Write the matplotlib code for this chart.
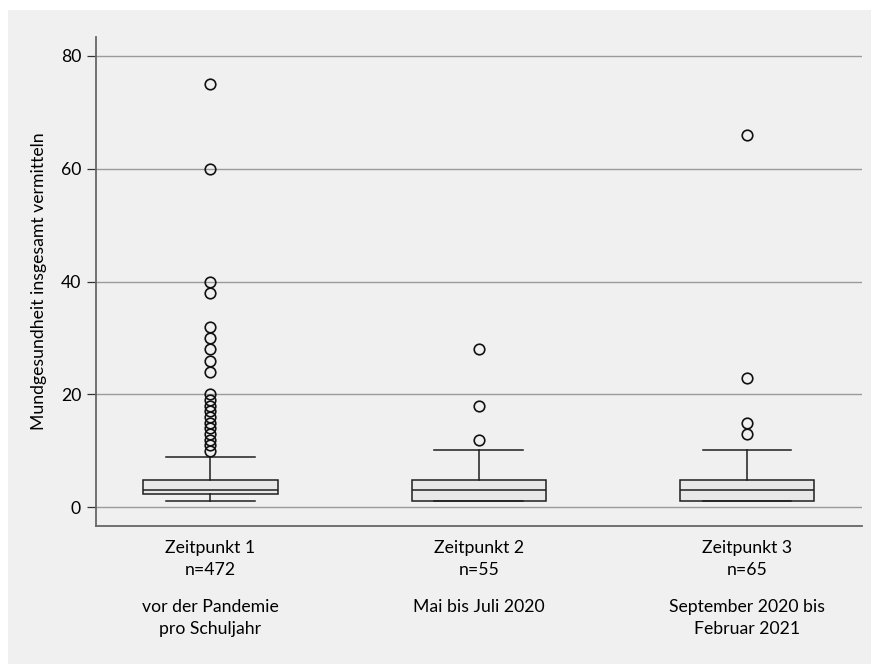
import matplotlib
matplotlib.use('Agg')
import matplotlib.pyplot as plt
import matplotlib.transforms as mtransforms
from matplotlib.patches import Rectangle

# Werte
zeitpunkte = ['Zeitpunkt 1', 'Zeitpunkt 2', 'Zeitpunkt 3']
n_werte = [472, 55, 65]
zeitraum = ['vor der Pandemie\npro Schuljahr', 'Mai bis Juli 2020', 'September 2020 bis\nFebruar 2021']
whisker_unten = [1.2, 1.2, 1.2]
q1 = [2.3, 1.2, 1.2]
median = [3.0, 3.0, 3.0]
q3 = [4.8, 4.8, 4.8]
whisker_oben = [9.0, 10.2, 10.2]
ausreisser = [
    [10, 11, 12, 13, 14, 15, 16, 17, 18, 19, 20, 24, 26, 28, 30, 32, 38, 40, 60, 75],
    [12, 18, 28],
    [13, 15, 23, 66],
]

plt.rcParams['font.family'] = ['Lato', 'DejaVu Sans']
fs = 12.7

fig = plt.figure(figsize=(8.71, 6.64), dpi=100)
fig.patch.set_facecolor('white')
# grauer Hintergrund (weisser Rand links und oben)
fig.add_artist(Rectangle((8/871, 0), 1, 1 - 10/664, transform=fig.transFigure,
                         facecolor='#f0f0f0', edgecolor='none', zorder=-10))
ax = fig.add_axes([95.7/871, 1 - 526/664, (861.7 - 95.7)/871, (526 - 37.3)/664])
ax.set_facecolor('none')

stats = []
for i in range(len(zeitpunkte)):
    stats.append({'whislo': whisker_unten[i], 'q1': q1[i], 'med': median[i],
                  'q3': q3[i], 'whishi': whisker_oben[i], 'fliers': ausreisser[i]})

linie = dict(color='#1e1e1e', linewidth=1.1)
ax.bxp(stats, positions=[1, 2, 3], widths=0.5, capwidths=0.33, patch_artist=True,
       boxprops=dict(facecolor='#e8e8e8', edgecolor='#1e1e1e', linewidth=1.1),
       medianprops=linie, whiskerprops=linie, capprops=linie,
       flierprops=dict(marker='o', markerfacecolor='none', markeredgecolor='#111111',
                       markersize=7.6, markeredgewidth=1.2))

ax.set_xlim(0.572, 3.428)
ax.set_ylim(-3.31, 83.3)
ax.set_yticks([0, 20, 40, 60, 80])
ax.yaxis.grid(True, color='#9a9a9a', linewidth=1.0)
ax.set_axisbelow(True)

ax.set_xticks([1, 2, 3])
ax.set_xticklabels([z + '\nn=' + str(n) for z, n in zip(zeitpunkte, n_werte)],
                   fontsize=fs, linespacing=1.45)
ax.tick_params(axis='x', length=0, pad=10)
ax.tick_params(axis='y', length=6.5, width=0.9, color='#333333', labelsize=fs, pad=4)

trans = mtransforms.blended_transform_factory(ax.transData, ax.transAxes)
for i, t in enumerate(zeitraum):
    ax.text(i + 1, -0.15, t, transform=trans, ha='center', va='top',
            fontsize=fs, linespacing=1.4)

for s in ['top', 'right']:
    ax.spines[s].set_visible(False)
for s in ['left', 'bottom']:
    ax.spines[s].set_color('#666666')
    ax.spines[s].set_linewidth(1.3)

ax.set_ylabel('Mundgesundheit insgesamt vermitteln', fontsize=fs, labelpad=10)

fig.savefig('out.png', dpi=100, facecolor=fig.get_facecolor())
